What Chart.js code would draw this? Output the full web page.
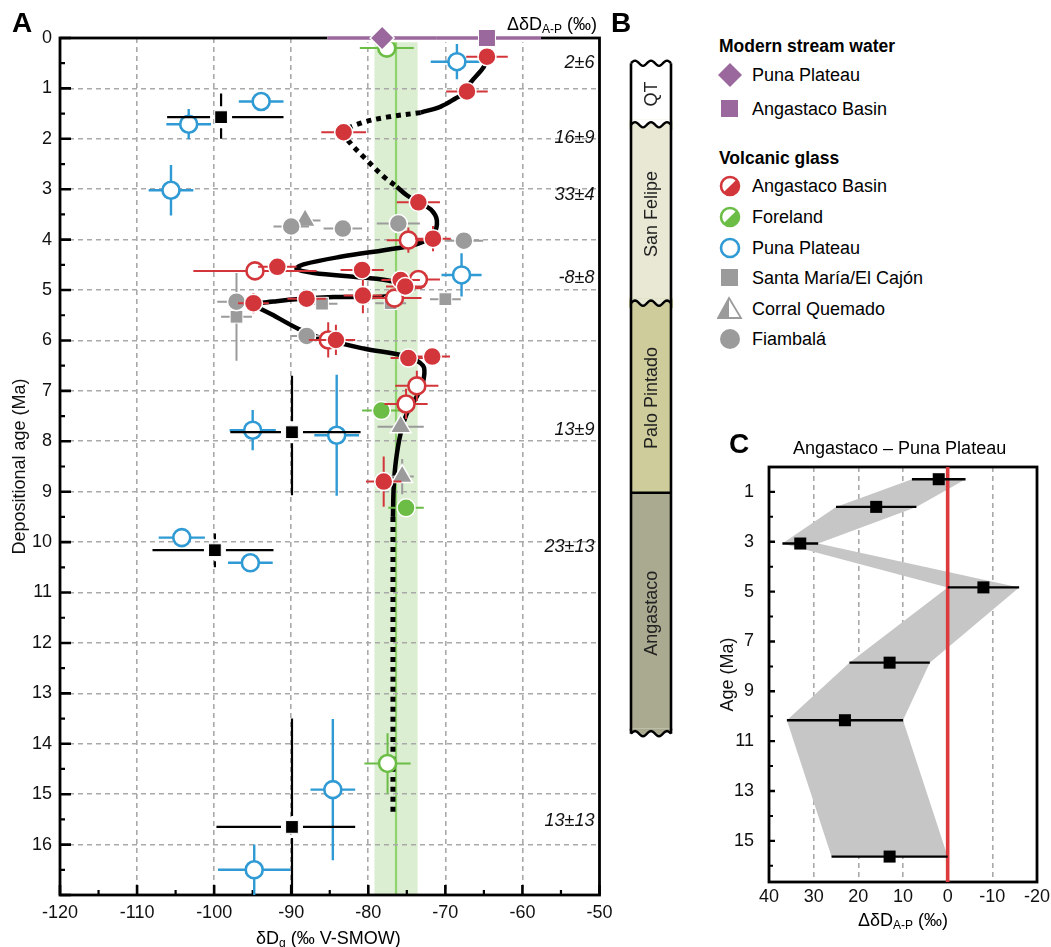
<!DOCTYPE html>
<html>
<head>
<meta charset="utf-8">
<script src="https://cdn.jsdelivr.net/npm/chart.js@4.4.0/dist/chart.umd.min.js"></script>
<style>
  body { margin: 0; background: #fff; font-family: "Liberation Sans", Arial, sans-serif; color: #000; }
  #wrap { position: relative; width: 1051px; height: 947px; overflow: hidden; }
  canvas { position: absolute; }
  .t { position: absolute; white-space: nowrap; font-size: 18px; line-height: 20px; }
  .panel { position: absolute; font-weight: bold; font-size: 28px; line-height: 30px; }
  .hd { position: absolute; font-weight: bold; font-size: 17.5px; line-height: 20px; white-space: nowrap; }
  sub { font-size: 12px; vertical-align: -3px; line-height: 0; }
  .icon { position: absolute; }
</style>
</head>
<body>
<div id="wrap">
  <canvas id="chartA" width="613" height="947" style="left:0;top:0"></canvas>
  <canvas id="chartB" width="90" height="947" style="left:606px;top:0"></canvas>
  <canvas id="chartC" width="351" height="517" style="left:700px;top:430px"></canvas>

  <div class="panel" style="left:12px;top:8px">A</div>
  <div class="panel" style="left:611px;top:8px">B</div>
  <div class="panel" style="left:729px;top:429px">C</div>

  <div class="t" style="right:454px;top:14px">ΔδD<sub>A-P</sub> (‰)</div>
  <div class="t" style="left:256px;top:928px">δD<sub>g</sub> (‰ V-SMOW)</div>
  <div class="t" style="left:793px;top:438px">Angastaco – Puna Plateau</div>
  <div class="t" style="left:858px;top:910px">ΔδD<sub>A-P</sub> (‰)</div>

  <div class="hd" style="left:719px;top:36px">Modern stream water</div>
  <div class="hd" style="left:719px;top:148px">Volcanic glass</div>
  <div id="legend"></div>
</div>

<script>
Chart.defaults.font.family = "'Liberation Sans', Arial, sans-serif";
Chart.defaults.color = '#111';

// ---------- panel A : glass dD vs depositional age ----------
const xTicksA = [-120, -110, -100, -90, -80, -70, -60, -50];
const yTicksA = [0, 1, 2, 3, 4, 5, 6, 7, 8, 9, 10, 11, 12, 13, 14, 15, 16];

// Angastaco Basin glass (filled / open symbols)
const redFilledX  = [-64.6, -67.2, -83.2, -73.5, -71.6, -91.8, -80.8, -75.8, -75.2, -94.9, -88.0, -80.7, -84.2, -74.8, -71.7, -78.0];
const redFilledY  = [0.37, 1.06, 1.87, 3.26, 3.98, 4.54, 4.60, 4.80, 4.93, 5.26, 5.17, 5.11, 5.99, 6.35, 6.32, 8.80];
const redFilledEx = [2.7, 2.7, 2.9, 2.8, 2.3, 2.5, 2.8, 2.5, 2.5, 2.0, 2.5, 2.5, 2.5, 2.3, 2.3, 2.3];
const redFilledEy = [0.12, 0, 0, 0, 0.25, 0, 0, 0, 0, 0.2, 0, 0.35, 0.3, 0, 0, 0.5];

const redOpenX  = [-74.8, -94.7, -73.5, -76.6, -85.2, -73.7, -75.1];
const redOpenY  = [4.01, 4.62, 4.79, 5.16, 5.99, 6.90, 7.26];
const redOpenEx = [2.8, 8.0, 2.8, 3.5, 2.5, 2.8, 2.8];
const redOpenEy = [0.25, 0, 0, 0, 0.35, 0.3, 0.3];

// Foreland glass
const greenFilledX  = [-78.3, -75.1];
const greenFilledY  = [7.39, 9.32];
const greenFilledEx = [2.5, 2.3];
const greenFilledEy = [0, 0.15];
const greenOpenX  = [-77.6, -77.5];
const greenOpenY  = [0.2, 14.39];
const greenOpenEx = [3.5, 3.0];
const greenOpenEy = [0, 0.6];

// Puna Plateau glass
const punaX  = [-68.5, -93.9, -103.3, -105.6, -67.9, -95.0, -84.1, -104.2, -95.3, -84.6, -94.8];
const punaY  = [0.47, 1.26, 1.71, 3.02, 4.70, 7.78, 7.88, 9.91, 10.41, 14.91, 16.5];
const punaEx = [3.4, 2.9, 2.9, 2.9, 2.6, 3.0, 2.9, 3.0, 2.9, 2.9, 4.7];
const punaEy = [0.35, 0, 0.3, 0.5, 0.43, 0.4, 1.2, 0, 0, 1.4, 0.5];

// Fiambalá, Santa María/El Cajón, Corral Quemado
const fiambalaX  = [-90.0, -83.3, -76.1, -67.6, -97.1, -88.0];
const fiambalaY  = [3.74, 3.78, 3.68, 4.02, 5.23, 5.91];
const fiambalaEx = [2.3, 2.5, 2.8, 2.5, 2.5, 2.0];
const santaMariaX  = [-97.1, -86.0, -70.0, -77.1];
const santaMariaY  = [5.53, 5.27, 5.18, 5.26];
const santaMariaEx = [2.0, 2.0, 2.0, 2.0];
const santaMariaEy = [0.87, 0, 0, 0];
const corralX  = [-88.2, -75.8, -75.6];
const corralY  = [3.62, 7.71, 8.70];
const corralEx = [2.0, 3.0, 1.5];
const corralEy = [0, 0, 0.35];

// Puna Plateau means (black squares) with their ranges
const punaMeanX   = [-99.1, -89.9, -99.9, -89.9];
const punaMeanY   = [1.57, 7.82, 10.16, 15.65];
const punaMeanXLo = [-106.1, -97.9, -108.0, -99.7];
const punaMeanXHi = [-91.0, -81.0, -92.3, -81.7];
const punaMeanYLo = [1.1, 6.7, 9.83, 13.5];
const punaMeanYHi = [2.0, 9.07, 10.5, 17.0];

// modern stream water (plotted at 0 Ma)
const streamPunaX = [-78.2], streamPunaEx = [7.1];
const streamAngX  = [-64.6], streamAngEx  = [7.0];

// foreland glass mean band
const bandLo = -79.2, bandHi = -73.6, bandMid = -76.4;

// trend curve through the Angastaco record
const trendTop = [[-64.6, 0.37], [-65.0, 0.57], [-66.8, 0.9], [-67.2, 1.06], [-68.7, 1.2], [-70.6, 1.36], [-73.2, 1.48]];
const trendGap1 = [[-73.2, 1.48], [-77.6, 1.57], [-81.0, 1.69], [-83.2, 1.87], [-82.3, 2.09], [-80.2, 2.42], [-78.0, 2.75], [-76.3, 2.95]];
const trendMain = [[-76.3, 2.95], [-75.0, 3.12], [-73.5, 3.26], [-71.9, 3.40], [-71.1, 3.62], [-71.6, 3.9], [-73.5, 4.08],
  [-76.3, 4.17], [-83.6, 4.34], [-88.4, 4.49], [-89.3, 4.58], [-87.1, 4.66], [-80.8, 4.75], [-77.1, 4.82], [-75.5, 4.95],
  [-77.6, 5.12], [-84.5, 5.14], [-91.9, 5.22], [-94.5, 5.30], [-92.3, 5.5], [-88.8, 5.79], [-85.8, 5.97], [-80.6, 6.16],
  [-75.0, 6.32], [-72.9, 6.5], [-72.8, 6.75], [-73.5, 7.05], [-75.0, 7.45], [-75.8, 7.84], [-76.4, 8.37], [-76.7, 8.9], [-76.8, 9.5]];
const trendGap2 = [[-76.8, 9.5], [-76.8, 15.4]];

// ---------- panel C : Angastaco - Puna difference ----------
const cAge   = [0.49, 1.6, 3.07, 4.83, 7.85, 10.16, 15.63];
const cDelta = [2, 16, 33, -8, 13, 23, 13];
const cErr   = [6, 9, 4, 8, 9, 13, 13];
const xTicksC = [40, 30, 20, 10, 0, -10, -20];
const yTicksC = [1, 3, 5, 7, 9, 11, 13, 15];
const yMinorC = [2, 4, 6, 8, 10, 12, 14, 16];

// labels written at the right of panel A
const annoAge = [0.5, 1.98, 3.11, 4.76, 7.78, 10.1, 15.54];

// ---------- panel B : formations ----------
const formNames  = ['QT', 'San Felipe', 'Palo Pintado', 'Angastaco'];
const contactAge = [0.5, 1.72, 5.26, 9.02, 13.8];
const contactWavy = [true, true, true, false, true];

const RED = '#d3363a', BLUE = '#2f9ad3', GREEN = '#6bbd45', GRAY = '#9b9b9b', PURPLE = '#9a689c';
const formColors = ['#ffffff', '#e8e8d4', '#cdcc9a', '#a9aa8f'];

function pts(xs, ys) { return xs.map((x, i) => ({ x: x, y: ys[i] })); }
function pairPts(p) { return p.map(q => ({ x: q[0], y: q[1] })); }
function symErr(xs, ys, ex, ey) {
  return xs.map((x, i) => {
    const dy = ey ? ey[i] : 0;
    return [x - ex[i], x + ex[i], ys[i] - dy, ys[i] + dy];
  });
}

function marker(label, xs, ys, err, style) {
  return Object.assign({ label: label, data: pts(xs, ys), err: err, clip: false, errWidth: 2 }, style);
}
function trend(p, dotted) {
  return {
    data: pairPts(p), showLine: true, borderColor: '#000', borderWidth: dotted ? 5 : 4.5,
    borderDash: dotted ? [5, 5] : [], borderCapStyle: 'butt', tension: 0.35,
    pointRadius: 0, order: 6, clip: false
  };
}

// error bars drawn just before each dataset's own markers
const errorBars = {
  id: 'errorBars',
  beforeDatasetDraw(chart, args) {
    const ds = chart.data.datasets[args.index];
    if (!ds.err) return;
    const { ctx, scales: { x, y } } = chart;
    const gap = ds.errGap || 0;
    const segs = [];
    ds.err.forEach((e, i) => {
      const px = x.getPixelForValue(ds.data[i].x), py = y.getPixelForValue(ds.data[i].y);
      if (e[0] !== e[1]) {
        const a = Math.min(x.getPixelForValue(e[0]), x.getPixelForValue(e[1]));
        const b = Math.max(x.getPixelForValue(e[0]), x.getPixelForValue(e[1]));
        if (a < px - gap) segs.push([a, py, px - gap, py]);
        if (b > px + gap) segs.push([px + gap, py, b, py]);
      }
      if (e[2] !== e[3]) {
        const a = Math.min(y.getPixelForValue(e[2]), y.getPixelForValue(e[3]));
        const b = Math.max(y.getPixelForValue(e[2]), y.getPixelForValue(e[3]));
        if (a < py - gap) segs.push([px, a, px, py - gap]);
        if (b > py + gap) segs.push([px, py + gap, px, b]);
      }
    });
    ctx.save();
    ctx.lineCap = 'butt';
    const passes = ds.errUnder ? [[ds.errUnder, ds.errWidth + 5], [ds.errColor, ds.errWidth]] : [[ds.errColor, ds.errWidth]];
    passes.forEach(p => {
      ctx.strokeStyle = p[0];
      ctx.lineWidth = p[1];
      ctx.beginPath();
      segs.forEach(s => { ctx.moveTo(s[0], s[1]); ctx.lineTo(s[2], s[3]); });
      ctx.stroke();
    });
    ctx.restore();
  }
};

function mids(v) { const m = []; for (let i = 0; i < v.length - 1; i++) m.push((v[i] + v[i + 1]) / 2); return m; }
function insideTicks(ctx, scale, area, values, len, width) {
  ctx.lineWidth = width;
  ctx.strokeStyle = '#000';
  ctx.beginPath();
  values.forEach(v => {
    const p = scale.getPixelForValue(v);
    if (scale.isHorizontal()) { ctx.moveTo(p, area.bottom); ctx.lineTo(p, area.bottom - len); }
    else { ctx.moveTo(area.left, p); ctx.lineTo(area.left + len, p); }
  });
  ctx.stroke();
}

const panelA = {
  id: 'panelA',
  beforeDraw(chart) {
    const { ctx, chartArea: a, scales: { x } } = chart;
    const l = x.getPixelForValue(bandLo), r = x.getPixelForValue(bandHi), m = x.getPixelForValue(bandMid);
    ctx.save();
    ctx.fillStyle = '#dbeed1';
    ctx.fillRect(l, a.top, r - l, a.bottom - a.top);
    ctx.strokeStyle = '#8fd46e';
    ctx.lineWidth = 2.2;
    ctx.beginPath(); ctx.moveTo(m, a.top); ctx.lineTo(m, a.bottom); ctx.stroke();
    ctx.restore();
  },
  beforeDatasetsDraw(chart) {
    const { ctx, chartArea: a, scales: { x, y } } = chart;
    ctx.save();
    insideTicks(ctx, y, a, yTicksA.concat([17]), 11, 2.6);
    insideTicks(ctx, y, a, mids(yTicksA.concat([17])), 5, 2.2);
    insideTicks(ctx, x, a, xTicksA, 10, 2.6);
    insideTicks(ctx, x, a, mids(xTicksA), 5, 2.2);
    ctx.lineWidth = 2.8;
    ctx.strokeStyle = '#000';
    ctx.strokeRect(a.left, a.top, a.right - a.left, a.bottom - a.top);
    ctx.restore();
  },
  afterDatasetsDraw(chart) {
    const { ctx, chartArea: a, scales: { y } } = chart;
    ctx.save();
    ctx.font = "italic 18px 'Liberation Sans', Arial, sans-serif";
    ctx.fillStyle = '#111';
    ctx.textAlign = 'right';
    ctx.textBaseline = 'middle';
    annoAge.forEach((age, i) => {
      ctx.fillText(cDelta[i] + '±' + cErr[i], a.right - 5, y.getPixelForValue(age));
    });
    ctx.restore();
  }
};

const circle = (fill, stroke, w, r) => ({ pointStyle: 'circle', pointRadius: r, pointBackgroundColor: fill, pointBorderColor: stroke, pointBorderWidth: w });

const datasetsA = [
  trend(trendTop, false), trend(trendGap1, true), trend(trendMain, false), trend(trendGap2, true),
  marker('Fiambalá', fiambalaX, fiambalaY, symErr(fiambalaX, fiambalaY, fiambalaEx), Object.assign({ order: 5, errColor: GRAY }, circle(GRAY, '#fff', 1.5, 9))),
  marker('Santa María/El Cajón', santaMariaX, santaMariaY, symErr(santaMariaX, santaMariaY, santaMariaEx, santaMariaEy),
    { order: 5, errColor: GRAY, pointStyle: 'rect', pointRadius: 9, pointBackgroundColor: GRAY, pointBorderColor: '#fff', pointBorderWidth: 1 }),
  marker('Corral Quemado', corralX, corralY, symErr(corralX, corralY, corralEx, corralEy),
    { order: 5, errColor: GRAY, pointStyle: 'triangle', pointRadius: 12, pointBackgroundColor: GRAY, pointBorderColor: '#fff', pointBorderWidth: 1.5 }),
  marker('Puna Plateau', punaX, punaY, symErr(punaX, punaY, punaEx, punaEy), Object.assign({ order: 4, errColor: BLUE, errWidth: 2.4 }, circle('#fff', BLUE, 2.6, 8.5))),
  marker('Foreland', greenFilledX, greenFilledY, symErr(greenFilledX, greenFilledY, greenFilledEx, greenFilledEy), Object.assign({ order: 3, errColor: GREEN }, circle(GREEN, '#fff', 1.5, 9))),
  marker('Foreland open', greenOpenX, greenOpenY, symErr(greenOpenX, greenOpenY, greenOpenEx, greenOpenEy), Object.assign({ order: 3, errColor: GREEN }, circle('#fff', GREEN, 2.6, 8.5))),
  marker('Angastaco open', redOpenX, redOpenY, symErr(redOpenX, redOpenY, redOpenEx, redOpenEy), Object.assign({ order: 2, errColor: RED }, circle('#fff', RED, 2.6, 8.5))),
  marker('Angastaco Basin', redFilledX, redFilledY, symErr(redFilledX, redFilledY, redFilledEx, redFilledEy), Object.assign({ order: 1, errColor: RED }, circle(RED, '#fff', 1.5, 9))),
  marker('Puna mean', punaMeanX, punaMeanY, punaMeanX.map((v, i) => [punaMeanXLo[i], punaMeanXHi[i], punaMeanYLo[i], punaMeanYHi[i]]),
    { order: 0, errColor: '#000', errWidth: 2.2, errGap: 11, pointStyle: 'rect', pointRadius: 9, pointBackgroundColor: '#000', pointBorderColor: '#fff', pointBorderWidth: 1 }),
  marker('Stream Puna', streamPunaX, [0], symErr(streamPunaX, [0], streamPunaEx),
    { order: 0, errColor: PURPLE, errWidth: 3.5, errUnder: '#fff', pointStyle: 'rectRot', pointRadius: 12, pointBackgroundColor: PURPLE, pointBorderColor: '#fff', pointBorderWidth: 1.5 }),
  marker('Stream Angastaco', streamAngX, [0], symErr(streamAngX, [0], streamAngEx),
    { order: 0, errColor: PURPLE, errWidth: 3.5, errUnder: '#fff', pointStyle: 'rect', pointRadius: 12, pointBackgroundColor: PURPLE, pointBorderColor: '#fff', pointBorderWidth: 1 })
];

const tickFont = { size: 18 };
const gridGray = '#a9a9a9';

new Chart(document.getElementById('chartA'), {
  type: 'scatter',
  data: { datasets: datasetsA },
  options: {
    responsive: false,
    animation: false,
    layout: { padding: { top: 38, right: 8, left: 0, bottom: 0 } },
    plugins: { legend: { display: false }, tooltip: { enabled: false } },
    scales: {
      x: {
        type: 'linear', min: -120, max: -50,
        afterBuildTicks: s => { s.ticks = xTicksA.map(v => ({ value: v })); },
        afterFit: s => { s.height = 52; s.paddingLeft = 0; s.paddingRight = 0; },
        grid: { drawTicks: false, lineWidth: 1.6, color: c => (c.tick && (c.tick.value === -120 || c.tick.value === -50)) ? 'rgba(0,0,0,0)' : gridGray },
        border: { display: false, dash: [5, 4] },
        ticks: { font: tickFont, color: '#111', padding: 7, autoSkip: false, maxRotation: 0 }
      },
      y: {
        type: 'linear', min: 0, max: 17, reverse: true,
        afterBuildTicks: s => { s.ticks = yTicksA.map(v => ({ value: v })); },
        afterFit: s => { s.width = 60; s.paddingTop = 0; s.paddingBottom = 0; },
        grid: { drawTicks: false, lineWidth: 1.6, color: c => (c.tick && c.tick.value === 0) ? 'rgba(0,0,0,0)' : gridGray },
        border: { display: false, dash: [5, 4] },
        ticks: { font: tickFont, color: '#111', padding: 8, autoSkip: false },
        title: { display: true, text: 'Depositional age (Ma)', font: { size: 18 }, color: '#111', padding: { top: 9, bottom: 0 } }
      }
    }
  },
  plugins: [panelA, errorBars]
});

// ---------- panel B ----------
const columnPlugin = {
  id: 'column',
  afterDatasetsDraw(chart) {
    const { ctx, scales: { y } } = chart;
    const bar = chart.getDatasetMeta(0).data[0];
    const x0 = bar.x - bar.width / 2, x1 = bar.x + bar.width / 2;
    const amp = 2.6, period = 16;
    ctx.save();
    contactAge.forEach((age, i) => {
      const yy = y.getPixelForValue(age);
      const above = i === 0 ? '#fff' : formColors[i - 1];
      const below = i === formNames.length ? '#fff' : formColors[i];
      ctx.strokeStyle = '#000';
      ctx.lineWidth = 2.4;
      if (contactWavy[i]) {
        ctx.fillStyle = below;
        ctx.fillRect(x0 - 2, yy - 5, x1 - x0 + 4, 10);
        ctx.beginPath();
        ctx.moveTo(x0 - 2, yy - 5);
        for (let px = x0; px <= x1 + 0.01; px += 1) ctx.lineTo(px, yy - amp * Math.sin(2 * Math.PI * (px - x0) / period));
        ctx.lineTo(x1 + 2, yy - 5);
        ctx.closePath();
        ctx.fillStyle = above;
        ctx.fill();
        ctx.beginPath();
        for (let px = x0; px <= x1 + 0.01; px += 1) {
          const py = yy - amp * Math.sin(2 * Math.PI * (px - x0) / period);
          if (px === x0) ctx.moveTo(px, py); else ctx.lineTo(px, py);
        }
        ctx.stroke();
      } else {
        ctx.beginPath(); ctx.moveTo(x0, yy); ctx.lineTo(x1, yy); ctx.stroke();
      }
    });
    const yTop = y.getPixelForValue(contactAge[0]), yBot = y.getPixelForValue(contactAge[contactAge.length - 1]);
    ctx.lineWidth = 2.6;
    ctx.beginPath();
    ctx.moveTo(x0, yTop); ctx.lineTo(x0, yBot);
    ctx.moveTo(x1, yTop); ctx.lineTo(x1, yBot);
    ctx.stroke();
    ctx.font = "18px 'Liberation Sans', Arial, sans-serif";
    ctx.fillStyle = '#222';
    ctx.textAlign = 'center';
    ctx.textBaseline = 'middle';
    formNames.forEach((name, i) => {
      const mid = (y.getPixelForValue(contactAge[i]) + y.getPixelForValue(contactAge[i + 1])) / 2;
      ctx.save();
      ctx.translate(bar.x + 1, mid);
      ctx.rotate(-Math.PI / 2);
      ctx.fillText(name, 0, 0);
      ctx.restore();
    });
    ctx.restore();
  }
};

new Chart(document.getElementById('chartB'), {
  type: 'bar',
  data: {
    labels: ['column'],
    datasets: formNames.map((n, i) => ({
      label: n, data: [[contactAge[i], contactAge[i + 1]]],
      backgroundColor: formColors[i], borderWidth: 0, barThickness: 40, grouped: false
    }))
  },
  options: {
    responsive: false,
    animation: false,
    layout: { padding: { top: 38, bottom: 52, left: 0, right: 0 } },
    plugins: { legend: { display: false }, tooltip: { enabled: false } },
    scales: {
      x: { display: false },
      y: { display: false, min: 0, max: 17, reverse: true }
    }
  },
  plugins: [columnPlugin]
});

// ---------- panel C ----------
const panelC = {
  id: 'panelC',
  beforeDatasetsDraw(chart) {
    const { ctx, chartArea: a, scales: { x, y } } = chart;
    ctx.save();
    ctx.fillStyle = '#c6c6c6';
    ctx.beginPath();
    cAge.forEach((age, i) => {
      const px = x.getPixelForValue(cDelta[i] + cErr[i]), py = y.getPixelForValue(age);
      if (i === 0) ctx.moveTo(px, py); else ctx.lineTo(px, py);
    });
    for (let i = cAge.length - 1; i >= 0; i--) ctx.lineTo(x.getPixelForValue(cDelta[i] - cErr[i]), y.getPixelForValue(cAge[i]));
    ctx.closePath();
    ctx.fill();
    insideTicks(ctx, y, a, yTicksC, 6, 2.4);
    insideTicks(ctx, y, a, yMinorC, 4, 2);
    ctx.lineWidth = 2.8;
    ctx.strokeStyle = '#000';
    ctx.strokeRect(a.left, a.top, a.right - a.left, a.bottom - a.top);
    ctx.restore();
  }
};

new Chart(document.getElementById('chartC'), {
  type: 'scatter',
  data: {
    datasets: [
      {
        label: 'ΔδD', data: pts(cDelta, cAge), err: symErr(cDelta, cAge, cErr), errColor: '#000', errWidth: 2.4,
        pointStyle: 'rect', pointRadius: 8.5, pointBackgroundColor: '#000', pointBorderWidth: 0, order: 0, clip: false
      },
      {
        label: 'zero', data: [{ x: 0, y: 0 }, { x: 0, y: 16.65 }], showLine: true, borderColor: '#dc3a3c', borderWidth: 3.6,
        pointRadius: 0, order: 1
      }
    ]
  },
  options: {
    responsive: false,
    animation: false,
    layout: { padding: { top: 37, right: 14, left: 0, bottom: 0 } },
    plugins: { legend: { display: false }, tooltip: { enabled: false } },
    scales: {
      x: {
        type: 'linear', min: -20, max: 40, reverse: true,
        afterBuildTicks: s => { s.ticks = xTicksC.map(v => ({ value: v })); },
        afterFit: s => { s.height = 65; s.paddingLeft = 0; s.paddingRight = 0; },
        grid: { drawTicks: false, lineWidth: 1.6, color: c => (c.tick && [40, 0, -20].includes(c.tick.value)) ? 'rgba(0,0,0,0)' : gridGray },
        border: { display: false, dash: [5, 4] },
        ticks: { font: tickFont, color: '#111', padding: 4, autoSkip: false, maxRotation: 0 }
      },
      y: {
        type: 'linear', min: 0, max: 16.65, reverse: true,
        afterBuildTicks: s => { s.ticks = yTicksC.map(v => ({ value: v })); },
        afterFit: s => { s.width = 69; s.paddingTop = 0; s.paddingBottom = 0; },
        grid: { display: false },
        border: { display: false },
        ticks: { font: tickFont, color: '#111', padding: 7, autoSkip: false },
        title: { display: true, text: 'Age (Ma)', font: { size: 18 }, color: '#111', padding: { top: 17, bottom: 0 } }
      }
    }
  },
  plugins: [panelC, errorBars]
});

// ---------- legend ----------
const legendRows = [
  { text: 'Puna Plateau', y: 75, icon: 'diamond' },
  { text: 'Angastaco Basin', y: 109, icon: 'psquare' },
  { text: 'Angastaco Basin', y: 186, icon: 'halfRed' },
  { text: 'Foreland', y: 217, icon: 'halfGreen' },
  { text: 'Puna Plateau', y: 248, icon: 'ring' },
  { text: 'Santa María/El Cajón', y: 278, icon: 'gsquare' },
  { text: 'Corral Quemado', y: 309, icon: 'triangle' },
  { text: 'Fiambalá', y: 339, icon: 'gcircle' }
];

function drawIcon(c, kind) {
  const g = c.getContext('2d');
  const cx = 13, cy = 13;
  g.lineWidth = 2.6;
  if (kind === 'diamond') {
    g.fillStyle = PURPLE; g.beginPath();
    g.moveTo(cx, cy - 12); g.lineTo(cx + 12, cy); g.lineTo(cx, cy + 12); g.lineTo(cx - 12, cy); g.closePath(); g.fill();
  } else if (kind === 'psquare') {
    g.fillStyle = PURPLE; g.fillRect(cx - 9, cy - 9, 17, 17);
  } else if (kind === 'halfRed' || kind === 'halfGreen') {
    const col = kind === 'halfRed' ? RED : GREEN;
    g.fillStyle = '#fff'; g.beginPath(); g.arc(cx, cy, 9, 0, 2 * Math.PI); g.fill();
    g.fillStyle = col; g.beginPath(); g.arc(cx, cy, 9, -Math.PI / 4, 3 * Math.PI / 4); g.closePath(); g.fill();
    g.strokeStyle = col; g.beginPath(); g.arc(cx, cy, 9, 0, 2 * Math.PI); g.stroke();
  } else if (kind === 'ring') {
    g.strokeStyle = BLUE; g.beginPath(); g.arc(cx, cy, 9, 0, 2 * Math.PI); g.stroke();
  } else if (kind === 'gsquare') {
    g.fillStyle = GRAY; g.fillRect(cx - 9, cy - 9, 17, 17);
  } else if (kind === 'triangle') {
    g.fillStyle = GRAY; g.beginPath();
    g.moveTo(cx - 1, cy - 11); g.lineTo(cx - 1, cy + 9); g.lineTo(cx - 12, cy + 9); g.closePath(); g.fill();
    g.strokeStyle = GRAY; g.lineWidth = 1.8; g.beginPath();
    g.moveTo(cx - 1, cy - 11); g.lineTo(cx + 11, cy + 9); g.lineTo(cx - 12, cy + 9); g.closePath(); g.stroke();
  } else if (kind === 'gcircle') {
    g.fillStyle = GRAY; g.beginPath(); g.arc(cx, cy, 10, 0, 2 * Math.PI); g.fill();
  }
}

const legend = document.getElementById('legend');
legendRows.forEach(r => {
  const c = document.createElement('canvas');
  c.width = 26; c.height = 26; c.className = 'icon';
  c.style.left = '717px'; c.style.top = (r.y - 13) + 'px';
  drawIcon(c, r.icon);
  legend.appendChild(c);
  const t = document.createElement('div');
  t.className = 't';
  t.style.left = '752px'; t.style.top = (r.y - 10) + 'px';
  t.textContent = r.text;
  legend.appendChild(t);
});
</script>
</body>
</html>
